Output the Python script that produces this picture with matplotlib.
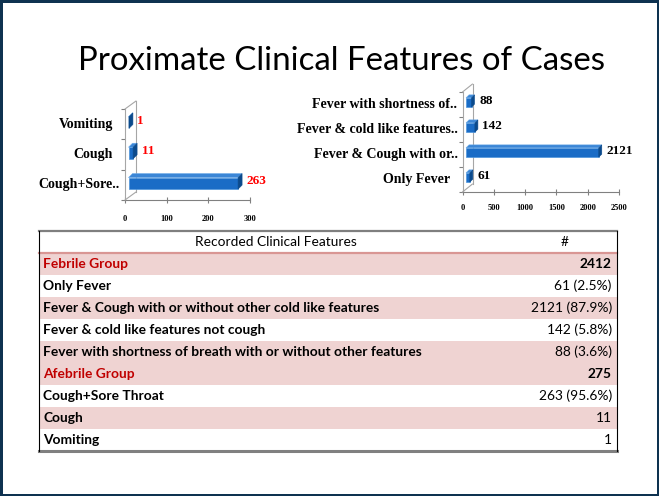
import matplotlib
matplotlib.use("Agg")
import matplotlib.pyplot as plt
import numpy as np
from matplotlib.patches import Polygon, Rectangle
from matplotlib.transforms import ScaledTranslation

# ---------------- data ----------------
title = "Proximate Clinical Features of Cases"

afeb_labels = ["Cough+Sore..", "Cough", "Vomiting"]
afeb_values = [263, 11, 1]
afeb_ticks = [0, 100, 200, 300]

feb_labels = ["Only Fever", "Fever & Cough with or..", "Fever & cold like features..",
              "Fever with shortness of.."]
feb_values = [61, 2121, 142, 88]
feb_ticks = [0, 500, 1000, 1500, 2000, 2500]

table_header = ["Recorded Clinical Features", "#"]
table_labels = ["Febrile Group", "Only Fever",
                "Fever & Cough with or without other cold like features",
                "Fever & cold like features not cough",
                "Fever with shortness of breath with or without other features",
                "Afebrile Group", "Cough+Sore Throat", "Cough", "Vomiting"]
table_values = ["2412", "61 (2.5%)", "2121 (87.9%)", "142 (5.8%)", "88 (3.6%)",
                "275", "263 (95.6%)", "11", "1"]
table_is_group = [True, False, False, False, False, True, False, False, False]

# ---------------- style ----------------
W, H, DPI = 659, 496, 100
SERIF = "Liberation Serif"
SANS = "Lato"
FRONT = "#1a6cc6"
TOP = "#3b86d6"
SIDE = "#0b4a8c"
WALL = "#a6a6a6"
AXC = "#808080"
PINK = "#efd3d2"
TFS = 9.9

fig = plt.figure(figsize=(W / DPI, H / DPI), dpi=DPI)
fig.patch.set_facecolor("white")


def px_axes(x0, y0, x1, y1):
    return fig.add_axes([x0 / W, 1 - y1 / H, (x1 - x0) / W, (y1 - y0) / H])


def off(ax, dx, dy):
    return ax.transData + ScaledTranslation(dx / DPI, dy / DPI, fig.dpi_scale_trans)


def chart(ax, labels, values, ticks, wall, boff, depth, h, vcolor, tick_pad):
    n = len(values)
    ys = np.arange(n)
    ax.set_xlim(ticks[0], ticks[-1])
    ax.set_ylim(-0.5, n - 0.5)
    ax.patch.set_visible(False)
    for s in ["top", "right"]:
        ax.spines[s].set_visible(False)
    ax.spines["left"].set_color(WALL)
    ax.spines["left"].set_linewidth(0.8)
    ax.spines["bottom"].set_color(AXC)
    ax.spines["bottom"].set_linewidth(0.8)
    ax.set_xticks(ticks)
    ax.set_xticklabels([str(t) for t in ticks], fontsize=6, fontweight="bold",
                       family=SERIF)
    ax.tick_params(axis="x", direction="inout", length=5, color=AXC, width=0.8,
                   pad=tick_pad)
    ax.set_yticks(np.arange(-0.5, n, 1.0))
    ax.set_yticklabels([])
    ax.tick_params(axis="y", direction="out", length=3, color=AXC, width=0.8)

    # back wall
    ax.plot([0, 0], [-0.5, n - 0.5], transform=off(ax, *wall), color=WALL,
            lw=0.8, clip_on=False)
    for yy in (-0.5, n - 0.5):
        ax.annotate("", xy=(0, yy), xycoords="data",
                    xytext=(wall[0] * 0.72, wall[1] * 0.72), textcoords="offset points",
                    arrowprops=dict(arrowstyle="-", color=WALL, lw=0.8,
                                    shrinkA=0, shrinkB=0))

    # bars (front face through barh, 3D faces from the same data scale)
    ax.barh(ys, values, height=h, left=0, color=FRONT, edgecolor="#4d94dc",
            linewidth=0.5, transform=off(ax, *boff), clip_on=False, zorder=3)
    fig.canvas.draw()
    dx, dy = depth
    for y, v in zip(ys, values):
        (x0, y0), (x1, y1) = ax.transData.transform([(0, y - h / 2), (v, y + h / 2)])
        x0 += boff[0]; x1 += boff[0]; y0 += boff[1]; y1 += boff[1]
        top = Polygon([(x0, y1), (x1, y1), (x1 + dx, y1 + dy), (x0 + dx, y1 + dy)],
                      closed=True, transform=None, facecolor=TOP, edgecolor="#6aa8e6",
                      lw=0.4, zorder=4)
        side = Polygon([(x1, y0), (x1 + dx, y0 + dy), (x1 + dx, y1 + dy), (x1, y1)],
                       closed=True, transform=None, facecolor=SIDE, edgecolor=SIDE,
                       lw=0.4, zorder=4)
        fig.add_artist(top)
        fig.add_artist(side)
        ax.annotate(str(v), xy=(v, y), xycoords="data",
                    xytext=((boff[0] + dx + 4.5) * 0.72, (boff[1] + dy / 2) * 0.72),
                    textcoords="offset points", ha="left", va="center",
                    fontsize=9.5, fontweight="bold", family=SERIF, color=vcolor,
                    zorder=5)

    # category labels
    for y, lab in zip(ys, labels):
        shift = -5 if lab.endswith("..") else -12
        ax.annotate(lab, xy=(0, y), xycoords="data", xytext=(shift * 0.72, 0),
                    textcoords="offset points", ha="right", va="center",
                    fontsize=10, fontweight="bold", family=SERIF, color="black")


# ---------------- title ----------------
fig.text(341.5 / W, 1 - 70 / H, title, ha="center", va="baseline", fontsize=23.8,
         family=SANS, color="black")

# ---------------- charts ----------------
axL = px_axes(125, 109, 250, 200)
chart(axL, afeb_labels, afeb_values, afeb_ticks, wall=(11, 8), boff=(3.5, 1.5),
      depth=(4, 4), h=0.38, vcolor="#ff0000", tick_pad=8)

axR = px_axes(462.5, 92, 619, 192)
chart(axR, feb_labels, feb_values, feb_ticks, wall=(10, 8), boff=(3.5, 2),
      depth=(3, 3), h=0.37, vcolor="black", tick_pad=6.5)

# ---------------- table ----------------
axT = px_axes(39, 231, 617, 451)
nrows = len(table_labels) + 1
axT.set_xlim(0, 1)
axT.set_ylim(nrows, 0)
axT.axis("off")
split = (512 - 39) / (617 - 39)

band = []
k = 0
for g in table_is_group:
    if g:
        band.append(True)
        k = 0
    else:
        band.append(k % 2 == 1)
        k += 1

for i, (lab, val, g, b) in enumerate(zip(table_labels, table_values, table_is_group, band)):
    r = i + 1
    if b:
        axT.add_patch(Rectangle((0, r), 1, 1, facecolor=PINK, edgecolor="none", zorder=1))
    axT.text(0.007, r + 0.5, lab, ha="left", va="center", fontsize=TFS,
             fontweight="bold", family=SANS, color="#c00000" if g else "black", zorder=3)
    axT.text(0.991, r + 0.5, val, ha="right", va="center", fontsize=TFS,
             fontweight="bold" if g else "normal", family=SANS, color="black", zorder=3)

axT.text(split / 2, 0.5, table_header[0], ha="center", va="center", fontsize=TFS,
         family=SANS, color="black")
axT.text((split + 1) / 2, 0.5, table_header[1], ha="center", va="center", fontsize=TFS,
         family=SANS, color="black")

axT.plot([0, 1], [1, 1], color="#d99694", lw=1.6, zorder=4, clip_on=False)
axT.plot([0, 1], [0, 0], color="#7f7f7f", lw=1.6, zorder=4, clip_on=False)
axT.plot([0, 1], [nrows, nrows], color="#808080", lw=2.2, zorder=4, clip_on=False)
axT.plot([0, 0], [0, nrows], color="black", lw=0.8, zorder=4, clip_on=False)
axT.plot([1, 1], [0, nrows], color="black", lw=0.8, zorder=4, clip_on=False)

# ---------------- slide border ----------------
fig.add_artist(Rectangle((0, 0), 1, 1, transform=fig.transFigure, fill=False,
                         edgecolor="#0e3250", linewidth=3.6, clip_on=False))

fig.savefig("out.png", dpi=DPI, facecolor="white")
